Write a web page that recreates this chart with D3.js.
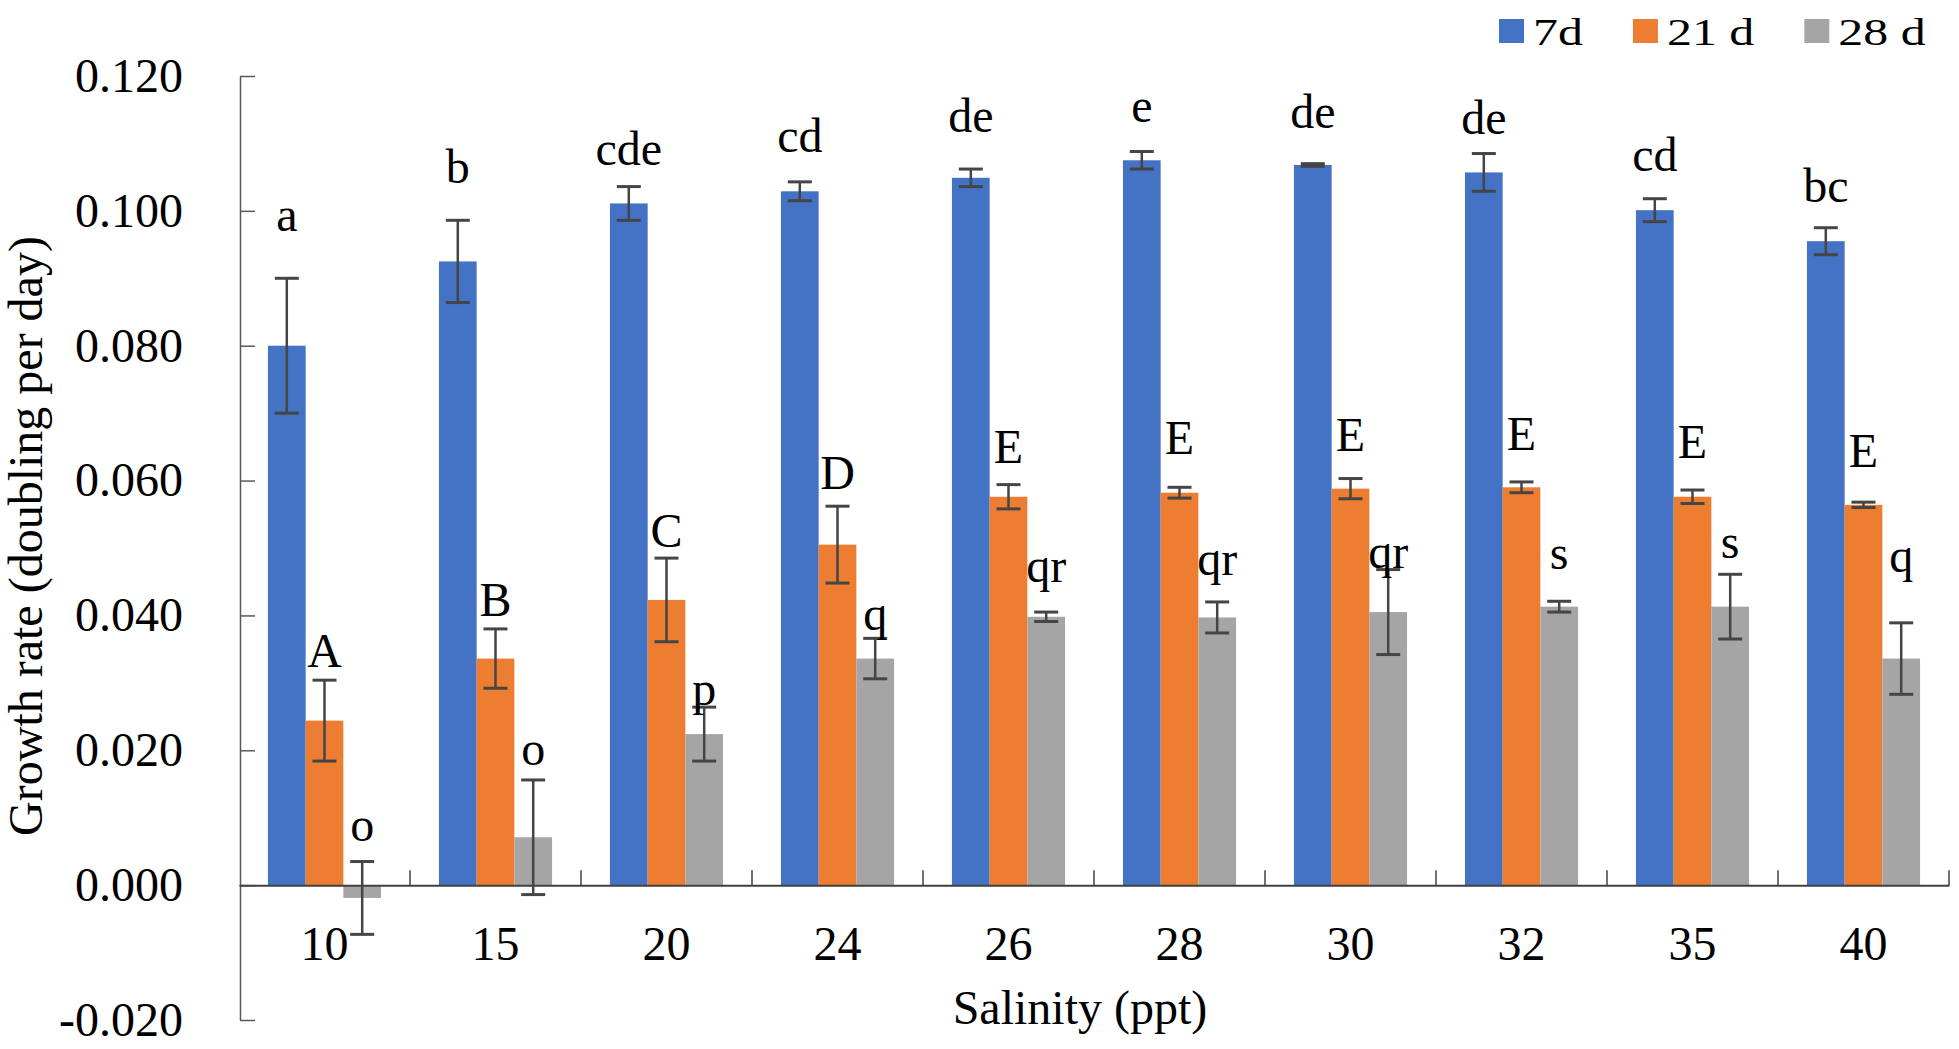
<!DOCTYPE html>
<html>
<head>
<meta charset="utf-8">
<script src="https://cdn.jsdelivr.net/npm/d3@7"></script>
<style>
  html, body { margin: 0; padding: 0; background: #ffffff; }
  svg { display: block; }
  text { font-family: "Liberation Serif", "Times New Roman", serif; fill: #000; }
</style>
</head>
<body>
<svg id="chart" width="1959" height="1049"></svg>
<script>
// ---------------- data ----------------
const categories = ["10", "15", "20", "24", "26", "28", "30", "32", "35", "40"];
const seriesNames = ["7d", "21 d", "28 d"];
const seriesColors = ["#4472C4", "#ED7D31", "#A5A5A5"];

const values7d  = [0.0800, 0.0925, 0.1011, 0.1029, 0.1049, 0.1075, 0.1068, 0.1057, 0.1001, 0.0955];
const errors7d  = [0.0100, 0.0061, 0.0025, 0.0014, 0.0013, 0.0013, 0.0002, 0.0028, 0.0017, 0.0020];
const values21d = [0.0244, 0.0336, 0.0423, 0.0505, 0.0576, 0.0582, 0.0588, 0.0590, 0.0576, 0.0564];
const errors21d = [0.0060, 0.0044, 0.0062, 0.0057, 0.0018, 0.0008, 0.0015, 0.0008, 0.0010, 0.0004];
const values28d = [-0.0019, 0.0071, 0.0224, 0.0336, 0.0398, 0.0397, 0.0405, 0.0413, 0.0413, 0.0336];
const errors28d = [0.0054, 0.0085, 0.0040, 0.0030, 0.0007, 0.0023, 0.0063, 0.0008, 0.0048, 0.0053];

// significance letters and the value level (data units) where each letter sits
const letters7d  = ["a", "b", "cde", "cd", "de", "e", "de", "de", "cd", "bc"];
const letterAt7d = [0.0970, 0.1041, 0.1068, 0.1087, 0.1117, 0.1132, 0.1123, 0.1114, 0.1059, 0.1013];
const letters21d  = ["A", "B", "C", "D", "E", "E", "E", "E", "E", "E"];
const letterAt21d = [0.0324, 0.0399, 0.0501, 0.0587, 0.0626, 0.0640, 0.0644, 0.0645, 0.0634, 0.0620];
const letters28d  = ["o", "o", "p", "q", "qr", "qr", "qr", "s", "s", "q"];
const letterAt28d = [0.0066, 0.0178, 0.0267, 0.0379, 0.0450, 0.0460, 0.0470, 0.0469, 0.0485, 0.0464];

const yTicks = [-0.02, 0.0, 0.02, 0.04, 0.06, 0.08, 0.10, 0.12];
const yTitle = "Growth rate (doubling per day)";
const xTitle = "Salinity (ppt)";

// ---------------- build ----------------
const seriesValues = [values7d, values21d, values28d];
const seriesErrors = [errors7d, errors21d, errors28d];
const seriesLetters = [letters7d, letters21d, letters28d];
const seriesLetterAt = [letterAt7d, letterAt21d, letterAt28d];

const rows = [];
categories.forEach((c, i) => {
  seriesNames.forEach((s, j) => {
    rows.push({
      cat: c, series: s, si: j,
      value: seriesValues[j][i], err: seriesErrors[j][i],
      letter: seriesLetters[j][i], letterAt: seriesLetterAt[j][i]
    });
  });
});

const svg = d3.select("#chart");
const FONT = 48;
const FAMILY = "'Liberation Serif', 'Times New Roman', serif";

const x0 = d3.scaleBand().domain(categories).range([239, 1949]).paddingInner(0).paddingOuter(0);
const x1 = d3.scaleBand().domain(seriesNames).range([0, x0.bandwidth()]).paddingInner(0).paddingOuter(0.768);
const y = d3.scaleLinear().domain([-0.02, 0.12]).range([1020, 76]);
const color = d3.scaleOrdinal().domain(seriesNames).range(seriesColors);

const fmt = d3.formatLocale({decimal: ".", thousands: ",", grouping: [3], currency: ["", ""], minus: "-"}).format(".3f");

// bars
svg.append("g").selectAll("rect").data(rows).join("rect")
  .attr("x", d => x0(d.cat) + x1(d.series))
  .attr("width", x1.bandwidth())
  .attr("y", d => y(Math.max(0, d.value)))
  .attr("height", d => Math.abs(y(d.value) - y(0)))
  .attr("fill", d => color(d.series));

// y axis
const yAxis = d3.axisLeft(y).tickValues(yTicks).tickFormat(fmt)
  .tickSizeInner(-15).tickSizeOuter(0).tickPadding(57);
const gy = svg.append("g").attr("transform", "translate(240,0)").call(yAxis);
gy.select(".domain").attr("stroke", "#595959").attr("stroke-width", 1.5);
gy.selectAll(".tick line").attr("stroke", "#595959").attr("stroke-width", 1.5);
gy.selectAll(".tick text").attr("font-size", FONT)
  .attr("font-family", FAMILY).attr("fill", "#000");

// x axis (category labels)
const xAxis = d3.axisBottom(x0).tickSizeInner(0).tickSizeOuter(0).tickPadding(41);
const gx = svg.append("g").attr("transform", `translate(0,${y(0)})`).call(xAxis);
gx.select(".domain").attr("stroke", "#404040").attr("stroke-width", 2);
gx.selectAll(".tick text").attr("font-size", FONT)
  .attr("font-family", FAMILY).attr("fill", "#000");

// category boundary tick marks (pointing up from the zero line)
svg.append("g").selectAll("line").data(categories).join("line")
  .attr("x1", d => x0(d) + x0.bandwidth()).attr("x2", d => x0(d) + x0.bandwidth())
  .attr("y1", y(0)).attr("y2", y(0) - 15)
  .attr("stroke", "#404040").attr("stroke-width", 1.5);

// error bars
const eb = svg.append("g").selectAll("g").data(rows).join("g")
  .attr("transform", d => `translate(${x0(d.cat) + x1(d.series) + x1.bandwidth() / 2},0)`);
eb.append("line")
  .attr("x1", 0).attr("x2", 0)
  .attr("y1", d => y(d.value + d.err)).attr("y2", d => y(d.value - d.err))
  .attr("stroke", "#454545").attr("stroke-width", 2.5);
eb.append("line")
  .attr("x1", -12).attr("x2", 12)
  .attr("y1", d => y(d.value + d.err)).attr("y2", d => y(d.value + d.err))
  .attr("stroke", "#454545").attr("stroke-width", 3);
eb.append("line")
  .attr("x1", -12).attr("x2", 12)
  .attr("y1", d => y(d.value - d.err)).attr("y2", d => y(d.value - d.err))
  .attr("stroke", "#454545").attr("stroke-width", 3);

// significance letters
svg.append("g").selectAll("text").data(rows).join("text")
  .attr("x", d => x0(d.cat) + x1(d.series) + x1.bandwidth() / 2)
  .attr("y", d => y(d.letterAt))
  .attr("text-anchor", "middle")
  .attr("font-size", FONT)
  .attr("font-family", FAMILY)
  .text(d => d.letter);

// axis titles
svg.append("text")
  .attr("transform", "translate(42,536) rotate(-90)")
  .attr("text-anchor", "middle").attr("font-size", FONT).attr("font-family", FAMILY)
  .text(yTitle);
svg.append("text")
  .attr("x", 1080).attr("y", 1024)
  .attr("text-anchor", "middle").attr("font-size", FONT).attr("font-family", FAMILY)
  .text(xTitle);

// legend
const legend = svg.append("g");
let lx = 1499;
seriesNames.forEach((s, j) => {
  legend.append("rect").attr("x", lx).attr("y", 19).attr("width", 25).attr("height", 24)
    .attr("fill", color(s));
  const t = legend.append("text")
    .attr("transform", `translate(${lx + 34},45) scale(1.35,1)`)
    .attr("font-size", 37).attr("font-family", FAMILY).text(s);
  const w = t.node().getComputedTextLength() * 1.35;
  lx = lx + 34 + w + 50;
});
</script>
</body>
</html>
